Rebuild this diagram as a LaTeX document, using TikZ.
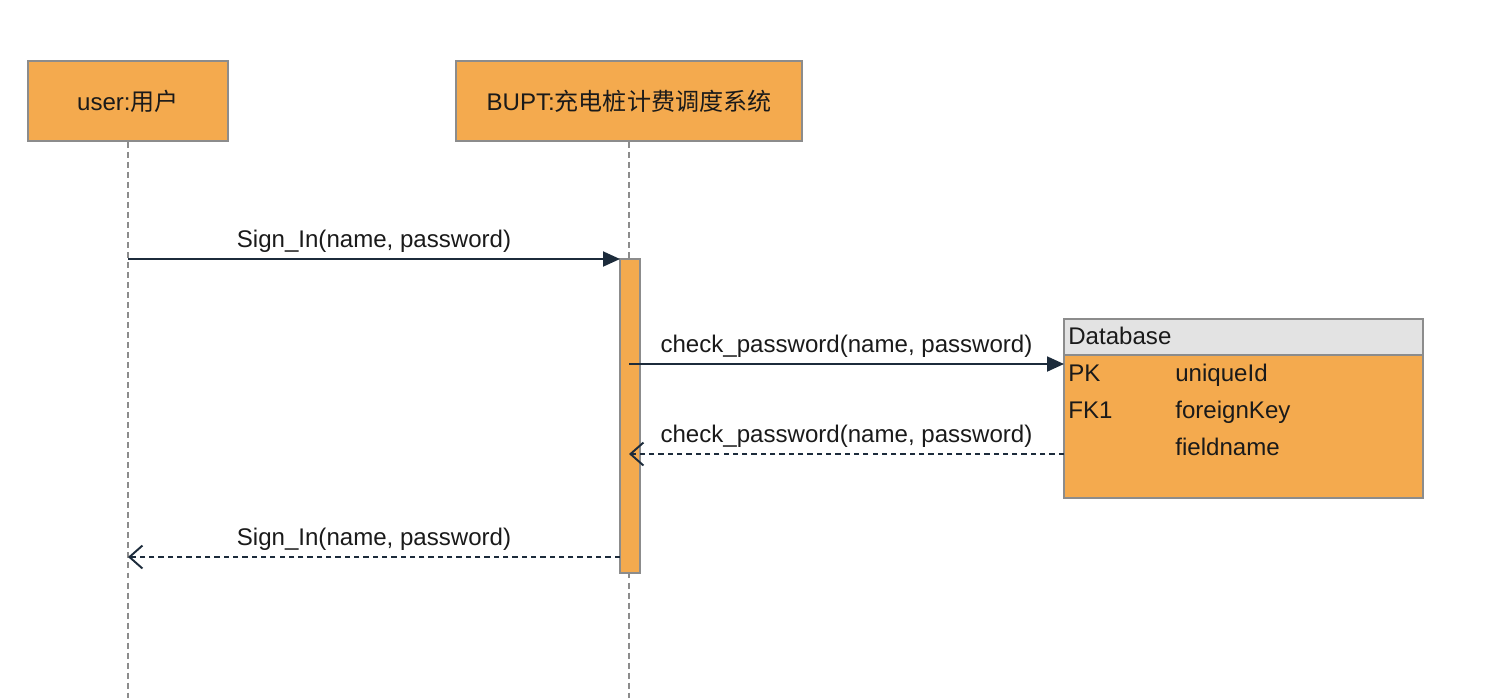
\documentclass[tikz,border=0pt]{standalone}
\usepackage{fontspec}
\setmainfont{Liberation Sans}
\newfontfamily\cjk{Noto Sans CJK SC}
\usetikzlibrary{arrows.meta}
\definecolor{boxfill}{HTML}{F4AA4E}
\definecolor{boxline}{HTML}{8C8C8C}
\definecolor{msgline}{HTML}{1C2B3B}
\definecolor{headfill}{HTML}{E3E3E3}
\definecolor{txt}{HTML}{1A1A1A}
\begin{document}
\begin{tikzpicture}[x=0.02cm, y=-0.02cm, font=\fontsize{13.7}{16}\selectfont, text=txt,
  actor/.style={draw=boxline, fill=boxfill, line width=1pt, minimum height=1.6cm},
  lifeline/.style={draw=boxline, line width=0.8pt, dash pattern=on 3.4pt off 2.3pt},
  actbar/.style={draw=boxline, fill=boxfill, line width=1pt, minimum width=0.4cm, minimum height=6.28cm, inner sep=0pt},
  msg/.style={draw=msgline, line width=1.1pt, -{Triangle[length=0.34cm, width=0.3cm]}},
  reply/.style={draw=msgline, line width=1.1pt, dash pattern=on 3pt off 2.3pt, -{Straight Barb[length=0.26cm, width=0.46cm]}},
  lbl/.style={midway, yshift=0.36cm, inner sep=0pt},
  cell/.style={anchor=west, inner sep=0pt, text height=0.72em, text depth=0.05em}]
  \useasboundingbox (0,0) rectangle (1501,698);
  % lifelines
  \node[actor, minimum width=4cm] (user) at (128,101) {user:{\cjk 用户}};
  \node[actor, minimum width=6.92cm] (sys) at (629,101) {BUPT:{\cjk 充电桩计费调度系统}};
  \coordinate (userend) at (128,698);
  \coordinate (sysend) at (629,698);
  \draw[lifeline] (user.south) -- (userend);
  \draw[lifeline] (sys.south) -- (sysend);
  \node[actbar] (act) at (630,416) {};
  % database table
  \node[draw=boxline, fill=headfill, line width=1pt, minimum width=7.18cm, minimum height=0.72cm, inner sep=0pt] (dbhead) at (1243.5,337) {};
  \node[draw=boxline, fill=boxfill, line width=1pt, minimum width=7.18cm, minimum height=2.86cm, inner sep=0pt] (dbbody) at (1243.5,426.5) {};
  \node[cell] (dbname) at (1068,339) {Database};
  \node[cell] (pk) at (1068,376) {PK};
  \node[cell] (fk) at (1068,413) {FK1};
  \node[cell] (uid) at (1175,376) {uniqueId};
  \node[cell] (fkey) at (1175,413) {foreignKey};
  \node[cell] (fld) at (1175,450) {fieldname};
  % messages
  \coordinate (m1s) at (128,259);
  \coordinate (m1e) at (620,259);
  \coordinate (m2s) at (629,364);
  \coordinate (m2e) at (1064,364);
  \coordinate (r1s) at (1064,454);
  \coordinate (r1e) at (629,454);
  \coordinate (r2s) at (620,557);
  \coordinate (r2e) at (128,557);
  \draw[msg] (m1s) -- (m1e) node[lbl] {Sign\_In(name, password)};
  \draw[msg] (m2s) -- (m2e) node[lbl] {check\_password(name, password)};
  \draw[reply] (r1s) -- (r1e) node[lbl] {check\_password(name, password)};
  \draw[reply] (r2s) -- (r2e) node[lbl] {Sign\_In(name, password)};
\end{tikzpicture}
\end{document}
